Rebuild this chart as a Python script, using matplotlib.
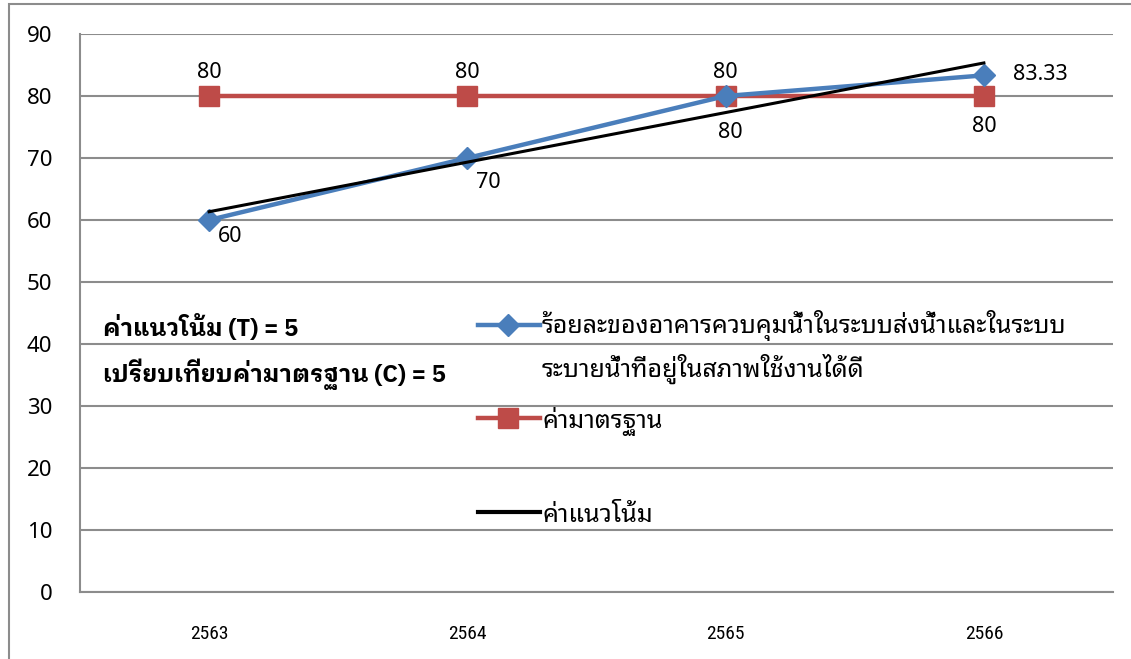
import matplotlib
matplotlib.use("Agg")
import matplotlib.pyplot as plt
from matplotlib.lines import Line2D
from matplotlib.patches import Rectangle
import numpy as np

plt.rcParams["font.family"] = ["Noto Sans", "Noto Sans Thai Looped", "DejaVu Sans"]
BOLD_FAMILY = ["IBM Plex Sans Thai Looped", "DejaVu Sans"]
TICK_FAMILY = ["Liberation Sans Narrow", "Arial Narrow", "Roboto Condensed", "Liberation Sans"]

years = ["2563", "2564", "2565", "2566"]
pct_good = [60, 70, 80, 83.33]
standard = [80, 80, 80, 80]

label_pct = "ร้อยละของอาคารควบคุมน้ำในระบบส่งน้ำและในระบบ\nระบายน้ำที่อยู่ในสภาพใช้งานได้ดี"
label_std = "ค่ามาตรฐาน"
label_trend = "ค่าแนวโน้ม"
note_trend = "ค่าแนวโน้ม (T) = 5"
note_compare = "เปรียบเทียบค่ามาตรฐาน (C) = 5"

BLUE = "#4a7ebb"
RED = "#be4b48"
GRID = "#8c8c8c"

x = np.arange(len(years))
# linear trendline through the percentage series
slope, icpt = np.polyfit(x, pct_good, 1)
trend = slope * x + icpt

fig = plt.figure(figsize=(11.31, 6.59), dpi=100)
ax = fig.add_axes([80 / 1131, 1 - 592 / 659, 1033 / 1131, 558 / 659])

# chart border
fig.patches.append(Rectangle((9 / 1131, -0.1), 1.2, 1 - 4 / 659 + 0.1,
                             transform=fig.transFigure, fill=False,
                             edgecolor=GRID, linewidth=1.5))

ax.plot(x, standard, color=RED, lw=3.2, marker="s", ms=14, zorder=3)
ax.plot(x, pct_good, color=BLUE, lw=3.2, marker="D", ms=11, zorder=4)
ax.plot(x, trend, color="black", lw=2.2, zorder=5)

ax.set_xlim(-0.5, 3.5)
ax.set_ylim(0, 90)
ax.set_yticks(range(0, 91, 10))
ax.set_xticks(x)
ax.set_xticklabels(years, family=TICK_FAMILY, fontsize=14)
ax.tick_params(axis="x", length=0, pad=24)
ax.tick_params(axis="y", length=0, pad=20, labelsize=16)
ax.yaxis.grid(True, color=GRID, lw=1.5)
ax.set_axisbelow(True)
for side in ("top", "right"):
    ax.spines[side].set_visible(False)
for side in ("left", "bottom"):
    ax.spines[side].set_color(GRID)
    ax.spines[side].set_linewidth(1.5)

# value labels
std_offsets = [(0, 23), (0, 23), (0, 23), (0, -31)]
pct_offsets = [(21, -17), (21, -24), (5, -37), (56, 1)]
for i in range(len(years)):
    ax.annotate(f"{standard[i]:g}", (x[i], standard[i]), xytext=std_offsets[i],
                textcoords="offset pixels", ha="center", va="center", fontsize=15.5)
    ax.annotate(f"{pct_good[i]:g}", (x[i], pct_good[i]), xytext=pct_offsets[i],
                textcoords="offset pixels", ha="center", va="center", fontsize=15.5)

# notes on the left
ax.text(23 / 1033, (592 - 327) / 558, note_trend, transform=ax.transAxes,
        fontsize=17.2, fontweight="bold", family=BOLD_FAMILY, va="center")
ax.text(23 / 1033, (592 - 374) / 558, note_compare, transform=ax.transAxes,
        fontsize=17.2, fontweight="bold", family=BOLD_FAMILY, va="center")

# legend drawn inside the plot area
h0, h1, hm, tx = (478 - 80) / 1033, (540 - 80) / 1033, (508 - 80) / 1033, (542 - 80) / 1033
entries = [
    (325, dict(color=BLUE, lw=3.2, marker="D", ms=11), label_pct),
    (418, dict(color=RED, lw=3.2, marker="s", ms=14), label_std),
    (512, dict(color="black", lw=3), label_trend),
]
for py, style, text in entries:
    yy = (592 - py) / 558
    ax.add_line(Line2D([h0, h1], [yy, yy], transform=ax.transAxes, clip_on=False,
                       color=style["color"], lw=style["lw"]))
    if "marker" in style:
        ax.add_line(Line2D([hm], [yy], transform=ax.transAxes, clip_on=False,
                           color=style["color"], marker=style["marker"], ms=style["ms"], lw=0))
    if "\n" in text:
        ax.text(tx, yy + 15 / 558, text, transform=ax.transAxes, fontsize=18,
                va="top", linespacing=1.55)
    else:
        ax.text(tx, yy, text, transform=ax.transAxes, fontsize=18, va="center_baseline")

fig.savefig("out.png", dpi=100)
